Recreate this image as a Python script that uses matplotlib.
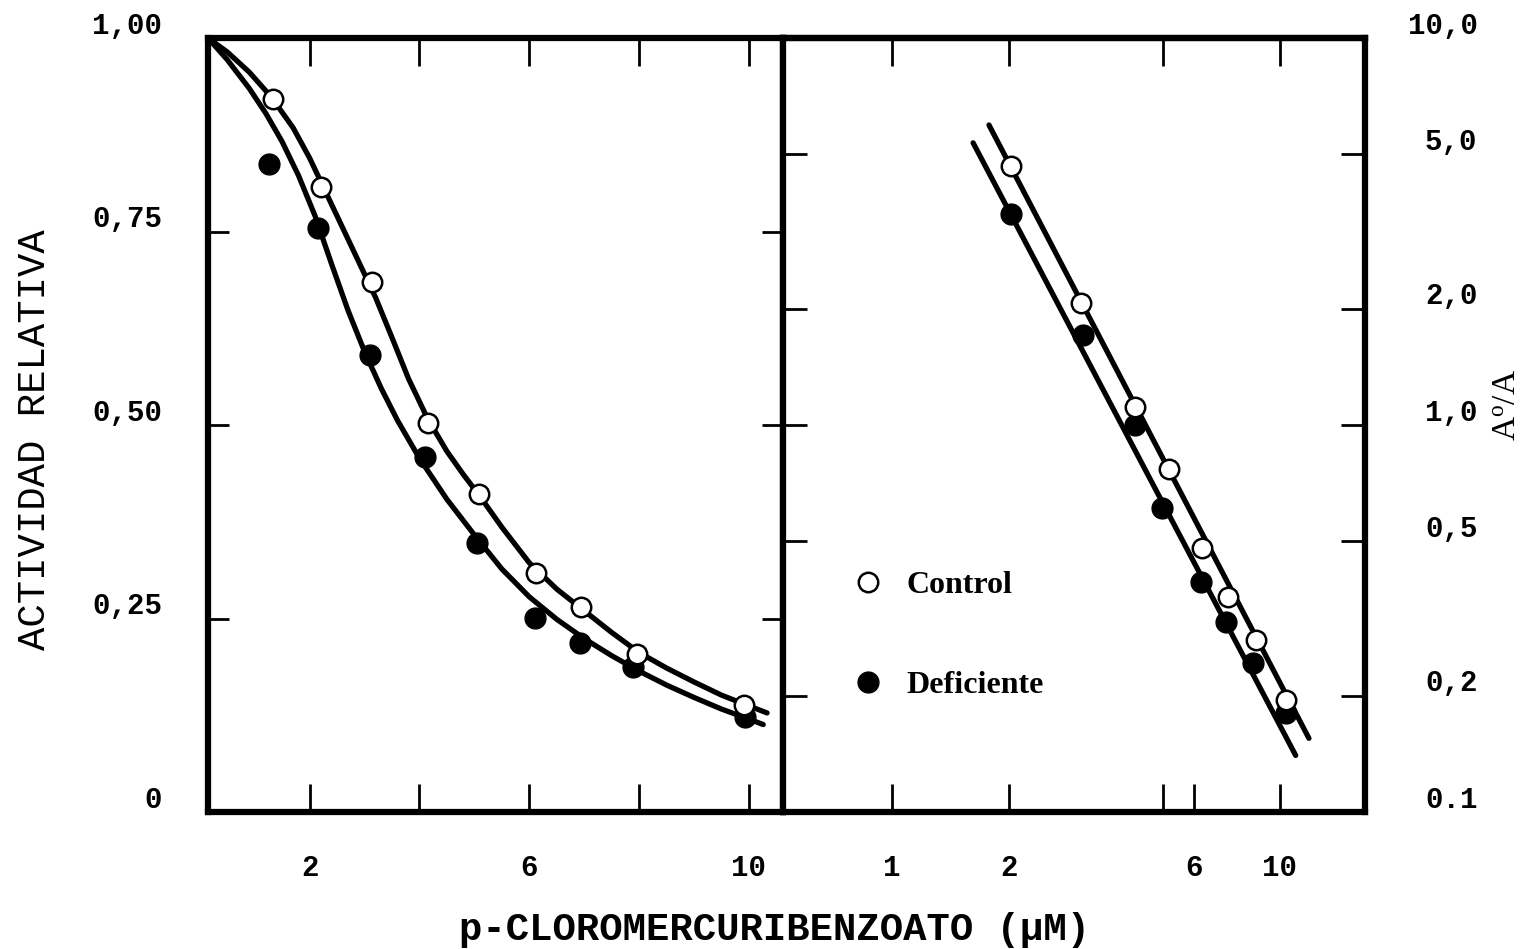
import matplotlib
matplotlib.use("Agg")
import matplotlib.pyplot as plt
from matplotlib.lines import Line2D
from matplotlib.ticker import FixedLocator, FixedFormatter, NullLocator
from matplotlib.transforms import ScaledTranslation

plt.rcParams['font.family'] = ['Liberation Mono', 'DejaVu Sans']
plt.rcParams['mathtext.fontset'] = 'custom'
plt.rcParams['mathtext.rm'] = 'Liberation Serif'
plt.rcParams['mathtext.it'] = 'Liberation Serif'

# --- panel izquierdo: actividad relativa vs concentracion ---
conc_ctrl = [1.33, 2.20, 3.13, 4.15, 5.08, 6.12, 6.94, 7.96, 9.91]
act_ctrl = [0.921, 0.807, 0.685, 0.503, 0.411, 0.309, 0.265, 0.204, 0.138]
conc_def = [1.26, 2.15, 3.10, 4.10, 5.05, 6.10, 6.92, 7.89, 9.93]
act_def = [0.837, 0.755, 0.590, 0.459, 0.348, 0.251, 0.218, 0.187, 0.123]

# curvas trazadas a mano
curve_ctrl_x = [0.15, 0.50, 0.90, 1.30, 1.70, 2.00, 2.30, 2.60, 2.90, 3.20, 3.50, 3.80,
                4.15, 4.50, 4.80, 5.10, 5.50, 6.00, 6.50, 7.00, 7.50, 8.00, 8.50, 9.00,
                9.50, 10.00, 10.33]
curve_ctrl_y = [1.000, 0.982, 0.956, 0.924, 0.884, 0.845, 0.800, 0.755, 0.710, 0.665, 0.613,
                0.560, 0.508, 0.466, 0.436, 0.408, 0.368, 0.322, 0.288, 0.260, 0.232, 0.206,
                0.186, 0.168, 0.151, 0.137, 0.128]
curve_def_x = [0.15, 0.50, 0.90, 1.20, 1.50, 1.80, 2.10, 2.40, 2.70, 3.00, 3.30, 3.60,
               4.00, 4.50, 5.00, 5.50, 6.00, 6.50, 7.00, 7.50, 8.00, 8.50, 9.00, 9.50,
               10.00, 10.26]
curve_def_y = [1.000, 0.972, 0.935, 0.903, 0.866, 0.822, 0.770, 0.708, 0.648, 0.595, 0.548,
               0.506, 0.457, 0.404, 0.358, 0.314, 0.278, 0.249, 0.224, 0.202, 0.182, 0.164,
               0.148, 0.133, 0.120, 0.113]

left_xticks = [2, 4, 6, 8, 10]
left_xlabels = ["2", "", "6", "", "10"]
left_yticks = [0, 0.25, 0.50, 0.75, 1.00]
left_ylabels = ["0", "0,25", "0,50", "0,75", "1,00"]

# --- panel derecho: A0/A vs concentracion (log-log) ---
conc2_ctrl = [2.03, 3.07, 4.23, 5.17, 6.29, 7.34, 8.67, 10.4]
ratio_ctrl = [4.67, 2.07, 1.11, 0.769, 0.481, 0.360, 0.278, 0.195]
conc2_def = [2.03, 3.11, 4.23, 4.98, 6.26, 7.26, 8.52, 10.36]
ratio_def = [3.51, 1.71, 1.00, 0.611, 0.393, 0.310, 0.243, 0.180]

line_ctrl_x = [1.78, 11.9]
line_ctrl_y = [5.96, 0.155]
line_def_x = [1.62, 11.0]
line_def_y = [5.36, 0.140]

right_xticks = [1, 2, 5, 6, 10]
right_xlabels = ["1", "2", "", "6", "10"]
right_xticks_top = [1, 2, 5, 10]
right_yticks = [0.1, 0.2, 0.5, 1.0, 2.0, 5.0, 10.0]
right_ylabels = ["0.1", "0,2", "0,5", "1,0", "2,0", "5,0", "10,0"]

fig = plt.figure(figsize=(15.25, 9.49), dpi=100)
L, B, H = 208 / 1525, 1 - 812 / 949, (812 - 38) / 949
W1 = (783 - 208) / 1525
W2 = (1365 - 783) / 1525
ax1 = fig.add_axes([L, B, W1, H])
ax2 = fig.add_axes([L + W1, B, W2, H])

SPINE_W = 4.5
LINE_W = 3.8
MS_OPEN = 14
MS_FILL = 15
up = ScaledTranslation(0, 11 / 72, fig.dpi_scale_trans)

# izquierdo
ax1.plot(curve_ctrl_x, curve_ctrl_y, color="black", lw=LINE_W, solid_capstyle="round",
         solid_joinstyle="round", zorder=2)
ax1.plot(curve_def_x, curve_def_y, color="black", lw=LINE_W, solid_capstyle="round",
         solid_joinstyle="round", zorder=2)
ax1.plot(conc_def, act_def, "o", color="black", ms=MS_FILL, zorder=3)
ax1.plot(conc_ctrl, act_ctrl, "o", mfc="white", mec="black", mew=1.8, ms=MS_OPEN, zorder=4)
ax1.set_xlim(0.15, 10.62)
ax1.set_ylim(0, 1.0)
ax1.xaxis.set_major_locator(FixedLocator(left_xticks))
ax1.xaxis.set_major_formatter(FixedFormatter(left_xlabels))
ax1.yaxis.set_major_locator(FixedLocator(left_yticks))
ax1.yaxis.set_major_formatter(FixedFormatter(left_ylabels))
ax1.tick_params(axis="x", direction="in", top=True, length=20, width=2, pad=30,
                labelsize=21)
ax1.tick_params(axis="y", direction="in", right=True, length=15, width=2, pad=33,
                labelsize=21)
for lab in ax1.get_yticklabels():
    lab.set_transform(lab.get_transform() + up)
for lab in ax1.get_xticklabels() + ax1.get_yticklabels():
    lab.set_fontweight("bold")

# derecho
ax2.set_xscale("log")
ax2.set_yscale("log")
ax2.plot(line_ctrl_x, line_ctrl_y, color="black", lw=LINE_W, solid_capstyle="round", zorder=2)
ax2.plot(line_def_x, line_def_y, color="black", lw=LINE_W, solid_capstyle="round", zorder=2)
ax2.plot(conc2_def, ratio_def, "o", color="black", ms=MS_FILL, zorder=3)
ax2.plot(conc2_ctrl, ratio_ctrl, "o", mfc="white", mec="black", mew=1.8, ms=MS_OPEN, zorder=4)
ax2.set_xlim(0.524, 16.6)
ax2.set_ylim(0.1, 10)
ax2.xaxis.set_major_locator(FixedLocator(right_xticks))
ax2.xaxis.set_major_formatter(FixedFormatter(right_xlabels))
ax2.xaxis.set_minor_locator(NullLocator())
ax2.yaxis.set_major_locator(FixedLocator(right_yticks))
ax2.yaxis.set_major_formatter(FixedFormatter(right_ylabels))
ax2.yaxis.set_minor_locator(NullLocator())
ax2.tick_params(axis="x", direction="in", top=False, length=20, width=2, pad=30,
                labelsize=21)
ax2.tick_params(axis="y", direction="in", left=True, right=True, labelleft=False,
                labelright=True, length=17, width=2, pad=81, labelsize=21)
for lab in ax2.get_yticklabels():
    lab.set_transform(lab.get_transform() + up)
    lab.set_horizontalalignment("right")
for lab in ax2.get_xticklabels() + ax2.get_yticklabels():
    lab.set_fontweight("bold")

top2 = ax2.secondary_xaxis("top")
top2.xaxis.set_major_locator(FixedLocator(right_xticks_top))
top2.xaxis.set_minor_locator(NullLocator())
top2.tick_params(direction="in", length=20, width=2, labeltop=False)
top2.spines["top"].set_linewidth(SPINE_W)

for ax in (ax1, ax2):
    for sp in ax.spines.values():
        sp.set_linewidth(SPINE_W)

handles = [
    Line2D([], [], ls="none", marker="o", mfc="white", mec="black", mew=1.8, ms=MS_OPEN),
    Line2D([], [], ls="none", marker="o", color="black", ms=MS_FILL),
]
ax2.legend(handles, ["Control", "Deficiente"], loc="center left",
           bbox_to_anchor=(0.069, 0.228), frameon=False, handlelength=1.0,
           handletextpad=0.72, labelspacing=2.2,
           prop={"family": "Liberation Serif", "weight": "bold", "size": 23})

fig.text(775 / 1525, 1 - 930 / 949, "p-CLOROMERCURIBENZOATO (µM)", ha="center",
         va="center", fontsize=28, fontweight="bold")
fig.text(35 / 1525, 1 - 440 / 949, "ACTIVIDAD RELATIVA", rotation=90, ha="center",
         va="center", fontsize=28)
fig.text(1508 / 1525, 1 - 405 / 949, r"A$^{\mathrm{o}}$/A", rotation=90, ha="center",
         va="center", fontsize=24, family="Liberation Serif")

fig.savefig("out.png", dpi=100)
